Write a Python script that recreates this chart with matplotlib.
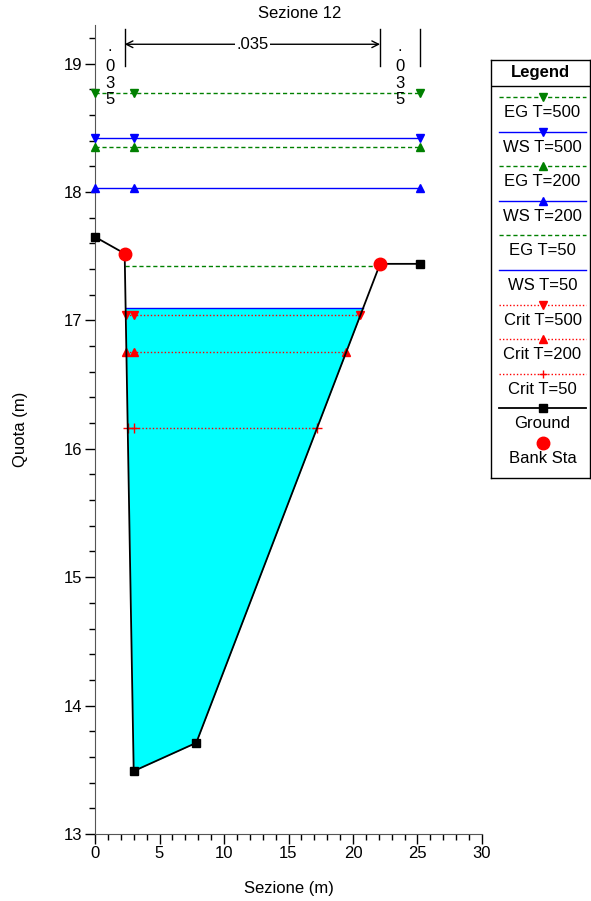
#!/usr/bin/env python3
"""Cross section plot - Sezione 12."""

import matplotlib
matplotlib.use('Agg')
import matplotlib.pyplot as plt
from matplotlib.ticker import MultipleLocator
import numpy as np

plt.rcParams['font.family'] = ['Liberation Sans', 'DejaVu Sans']
plt.rcParams['font.size'] = 12

GREEN = '#008000'
BLUE = '#0000FF'
RED = '#FF0000'
CYAN = '#00FFFF'

# Ground profile (station, elevation)
ground_x = [0.0, 2.3, 3.0, 7.85, 22.1, 25.2]
ground_y = [17.65, 17.52, 13.49, 13.71, 17.44, 17.44]
bank_x = [2.3, 22.1]
bank_y = [17.52, 17.44]

# Manning's n (left overbank, channel, right overbank)
manning_n = ['.035', '.035', '.035']

# Profile levels
profile_names = ['EG T=500', 'WS T=500', 'EG T=200', 'WS T=200', 'EG T=50',
                 'WS T=50', 'Crit T=500', 'Crit T=200', 'Crit T=50']
profile_levels = [18.77, 18.42, 18.35, 18.03, 17.42, 17.10, 17.04, 16.75, 16.16]

# styles: color, linestyle, marker
styles = {
    'EG T=500': (GREEN, (0, (3, 2)), 'v'),
    'WS T=500': (BLUE, '-', 'v'),
    'EG T=200': (GREEN, (0, (3, 2)), '^'),
    'WS T=200': (BLUE, '-', '^'),
    'EG T=50': (GREEN, (0, (3, 2)), None),
    'WS T=50': (BLUE, '-', None),
    'Crit T=500': (RED, (0, (1, 1.5)), 'v'),
    'Crit T=200': (RED, (0, (1, 1.5)), '^'),
    'Crit T=50': (RED, (0, (1, 1.5)), '+'),
}


def wet_limits(level):
    gx = np.array(ground_x)
    gy = np.array(ground_y)
    if gy[0] <= level:
        left = gx[0]
    else:
        i = int(np.argmax(gy < level))
        left = np.interp(level, [gy[i], gy[i - 1]], [gx[i], gx[i - 1]])
    if gy[-1] <= level:
        right = gx[-1]
    else:
        j = len(gy) - 1 - int(np.argmax(gy[::-1] < level))
        right = np.interp(level, [gy[j], gy[j + 1]], [gx[j], gx[j + 1]])
    return left, right


fig = plt.figure(figsize=(5.91, 9.01), dpi=100)
ax = fig.add_axes([95 / 591, 1 - 834 / 901, 387 / 591, 809 / 901])

# water fill for WS T=50
ws50 = profile_levels[profile_names.index('WS T=50')]
gx = np.array(ground_x)
gy = np.array(ground_y)
ax.fill_between(gx, gy, ws50, where=gy < ws50, interpolate=True,
                color=CYAN, linewidth=0, zorder=1)

for name, level in zip(profile_names, profile_levels):
    color, ls, marker = styles[name]
    left, right = wet_limits(level)
    xs = [left, ground_x[2], right]
    ax.plot(xs, [level] * 3, color=color, linestyle=ls, linewidth=1.0,
            marker=marker, markersize=6 if marker != '+' else 7,
            markeredgewidth=1.0, zorder=3, clip_on=False)

# ground
ax.plot(ground_x, ground_y, color='black', linewidth=1.3, marker='s',
        markersize=5.5, zorder=4, clip_on=False)
ax.plot(bank_x, bank_y, 'o', color=RED, markersize=9, zorder=5, clip_on=False)

# Manning n annotation
y_top, y_bot = 19.27, 18.98
for xv in [bank_x[0], bank_x[1], ground_x[-1]]:
    ax.plot([xv, xv], [y_bot, y_top], color='black', linewidth=1.0, zorder=5)
ax.annotate('', xy=(bank_x[0], 19.15), xytext=(bank_x[1], 19.15),
            arrowprops=dict(arrowstyle='<->', color='black', lw=1.0,
                            shrinkA=0, shrinkB=0))
ax.text((bank_x[0] + bank_x[1]) / 2, 19.15, manning_n[1], ha='center',
        va='center', fontsize=12, zorder=6,
        bbox=dict(facecolor='white', edgecolor='none', pad=1))
char_y = [19.098, 18.938, 18.811, 18.685]
for xv, n in [((ground_x[0] + bank_x[0]) / 2, manning_n[0]),
              ((bank_x[1] + ground_x[-1]) / 2, manning_n[2])]:
    for ch, yc in zip(n, char_y):
        ax.text(xv, yc, ch, ha='center', va='baseline', fontsize=12, zorder=6)

ax.set_xlim(0, 30)
ax.set_ylim(13, 19.30)
ax.xaxis.set_major_locator(MultipleLocator(5))
ax.xaxis.set_minor_locator(MultipleLocator(1))
ax.yaxis.set_major_locator(MultipleLocator(1))
ax.yaxis.set_minor_locator(MultipleLocator(0.2))
ax.tick_params(which='major', length=7, width=1, labelsize=12, pad=2)
ax.tick_params(which='minor', length=4, width=1)
for side in ['top', 'right']:
    ax.spines[side].set_visible(False)
ax.spines['left'].set_color('#555555')
ax.spines['bottom'].set_color('#555555')
ax.set_xlabel('Sezione (m)', fontsize=12, labelpad=14)
ax.set_ylabel('Quota (m)', fontsize=12, labelpad=26)
fig.text(300 / 591, 1 - 13 / 901, 'Sezione 12', ha='center', va='center',
         fontsize=12)

# Legend box (pixel coordinates)
lg = fig.add_axes([491 / 591, 1 - 478 / 901, 99 / 591, 418 / 901])
lg.set_xlim(0, 99)
lg.set_ylim(418, 0)
lg.set_xticks([])
lg.set_yticks([])
for s in lg.spines.values():
    s.set_linewidth(1.0)
lg.axhline(26, color='black', linewidth=1.0)
lg.text(49.5, 13, 'Legend', ha='center', va='center', fontsize=12,
        fontweight='bold')
row = 34.6
for k, name in enumerate(profile_names):
    color, ls, marker = styles[name]
    yl = 37 + k * row
    lg.plot([8, 95], [yl, yl], color=color, linestyle=ls, linewidth=1.0)
    if marker:
        lg.plot([51.5], [yl], marker=marker, color=color, markersize=6,
                markeredgewidth=1.0)
    lg.text(51.5, yl + 15.5, name, ha='center', va='center', fontsize=12)
yl = 37 + 9 * row
lg.plot([8, 95], [yl, yl], color='black', linewidth=1.3)
lg.plot([51.5], [yl], marker='s', color='black', markersize=5.5)
lg.text(51.5, yl + 15.5, 'Ground', ha='center', va='center', fontsize=12)
yl = 37 + 10 * row
lg.plot([51.5], [yl], 'o', color=RED, markersize=9)
lg.text(51.5, yl + 15.5, 'Bank Sta', ha='center', va='center', fontsize=12)

fig.savefig('out.png', dpi=100)
